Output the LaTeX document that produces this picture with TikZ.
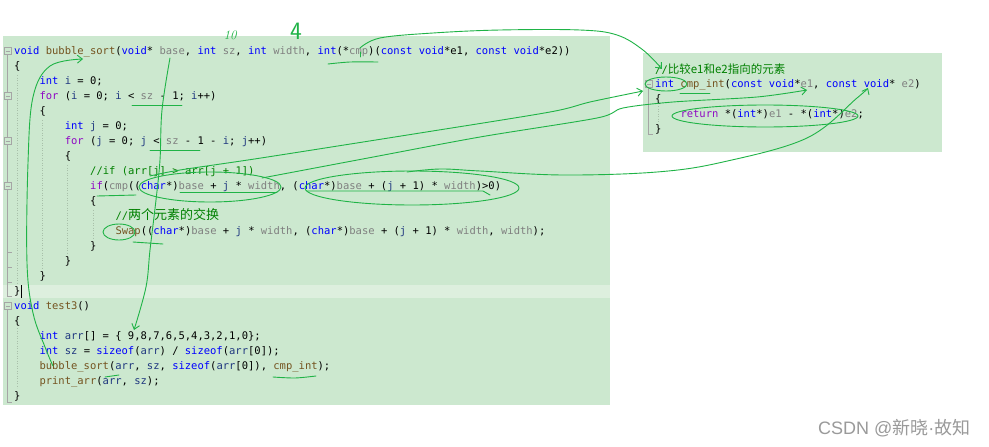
\documentclass[tikz,border=0pt]{standalone}
\usepackage{fontspec}
\setmonofont{DejaVu Sans Mono}
\newfontfamily\cjk{Noto Sans CJK SC}
\newfontfamily\wmfont{Liberation Sans}
\usepackage{xcolor}
\usetikzlibrary{arrows.meta}
\definecolor{panelgreen}{HTML}{CCE8CF}
\definecolor{curline}{HTML}{DDEFDE}
\definecolor{kwblue}{HTML}{0000FF}
\definecolor{ctlpurple}{HTML}{8F08C4}
\definecolor{fnbrown}{HTML}{74531F}
\definecolor{parmgray}{HTML}{808080}
\definecolor{localblue}{HTML}{1F377F}
\definecolor{cmtgreen}{HTML}{008000}
\definecolor{inkgreen}{HTML}{1FB346}
\definecolor{guttergray}{HTML}{A5A5A5}
\definecolor{guidegray}{HTML}{A8BFA9}
\definecolor{wmgray}{HTML}{9A9A9A}
\newcommand{\kw}[1]{\textcolor{kwblue}{#1}}
\newcommand{\ctl}[1]{\textcolor{ctlpurple}{#1}}
\newcommand{\fname}[1]{\textcolor{fnbrown}{#1}}
\newcommand{\pv}[1]{\textcolor{parmgray}{#1}}
\newcommand{\lv}[1]{\textcolor{localblue}{#1}}
\newcommand{\cmt}[1]{\textcolor{cmtgreen}{#1}}

\begin{document}
\begin{tikzpicture}[x=1pt,y=-1pt,
	codeline/.style={anchor=base west,inner sep=0pt,font=\ttfamily\fontsize{10.5}{15}\selectfont},
	scrawl/.style={draw=inkgreen,line width=0.9pt,line cap=round,line join=round,>={Straight Barb[length=5pt,width=8pt]}},
	gutter/.style={draw=guttergray,line width=0.5pt},
	guide/.style={draw=guidegray,line width=0.5pt,dotted}]
	\useasboundingbox[fill=white] (0,0) rectangle (989,447);
	% editor panels
	\fill[panelgreen] (3,36) rectangle (610,405);
	\fill[curline] (3,285) rectangle (610,298);
	\fill[panelgreen] (643,53) rectangle (942,152);

	% outlining gutter
	\draw[gutter] (7.5,54) -- (7.5,296) -- (12,296);
	\draw[gutter] (7.5,252) -- (12,252) (7.5,267) -- (12,267) (7.5,282) -- (12,282);
	\draw[gutter] (7.5,309) -- (7.5,402) -- (12,402);
	\draw[gutter] (648.5,87) -- (648.5,134) -- (653,134);
	\draw[gutter,fill=panelgreen] (4,47.5) rectangle (11,54.5);
	\draw[gutter] (5.5,51) -- (9.5,51);
	\draw[gutter,fill=panelgreen] (4,92.5) rectangle (11,99.5);
	\draw[gutter] (5.5,96) -- (9.5,96);
	\draw[gutter,fill=panelgreen] (4,137.5) rectangle (11,144.5);
	\draw[gutter] (5.5,141) -- (9.5,141);
	\draw[gutter,fill=panelgreen] (4,182.5) rectangle (11,189.5);
	\draw[gutter] (5.5,186) -- (9.5,186);
	\draw[gutter,fill=panelgreen] (4,302.5) rectangle (11,309.5);
	\draw[gutter] (5.5,306) -- (9.5,306);
	\draw[gutter,fill=panelgreen] (645,80.5) rectangle (652,87.5);
	\draw[gutter] (646.5,84) -- (650.5,84);

	% indent guides
	\draw[guide] (17,75) -- (17,283);
	\draw[guide] (42,120) -- (42,268);
	\draw[guide] (67.5,165) -- (67.5,253);
	\draw[guide] (93,210) -- (93,238);
	\draw[guide] (17,328) -- (17,388);
	\draw[guide] (658,106) -- (658,122);

	% bubble_sort
	\node[codeline] at (14,54.5) (l1) {\kw{void} \fname{bubble\_sort}(\kw{void}* \pv{base}, \kw{int} \pv{sz}, \kw{int} \pv{width}, \kw{int}(*\pv{cmp})(\kw{const} \kw{void}*e1, \kw{const} \kw{void}*e2))};
	\node[codeline] at (14,69.5) (l2) {\{};
	\node[codeline] at (39.3,84.5) (l3) {\kw{int} \lv{i} = 0;};
	\node[codeline] at (39.3,99.5) (l4) {\ctl{for} (\lv{i} = 0; \lv{i} < \pv{sz} - 1; \lv{i}++)};
	\node[codeline] at (39.3,114.5) (l5) {\{};
	\node[codeline] at (64.6,129.5) (l6) {\kw{int} \lv{j} = 0;};
	\node[codeline] at (64.6,144.5) (l7) {\ctl{for} (\lv{j} = 0; \lv{j} < \pv{sz} - 1 - \lv{i}; \lv{j}++)};
	\node[codeline] at (64.6,159.5) (l8) {\{};
	\node[codeline] at (90,174.5) (l9) {\cmt{//if (arr[j] > arr[j + 1])}};
	\node[codeline] at (90,189.5) (l10) {\ctl{if}(\pv{cmp}((\kw{char}*)\pv{base} + \lv{j} * \pv{width}, (\kw{char}*)\pv{base} + (\lv{j} + 1) * \pv{width})>0)};
	\node[codeline] at (90,204.5) (l11) {\{};
	\node[codeline] at (115.3,219.5) (l12) {\cmt{//{\cjk\fontsize{13}{15}\selectfont 两个元素的交换}}};
	\node[codeline] at (115.3,234.5) (l13) {\fname{Swap}((\kw{char}*)\pv{base} + \lv{j} * \pv{width}, (\kw{char}*)\pv{base} + (\lv{j} + 1) * \pv{width}, \pv{width});};
	\node[codeline] at (90,249.5) (l14) {\}};
	\node[codeline] at (64.6,264.5) (l15) {\}};
	\node[codeline] at (39.3,279.5) (l16) {\}};
	\node[codeline] at (14,294.5) (l17) {\}};
	\draw[black,line width=0.6pt] (21.5,285) -- (21.5,298);
	% test3
	\node[codeline] at (14,309.5) (l18) {\kw{void} \fname{test3}()};
	\node[codeline] at (14,324.5) (l19) {\{};
	\node[codeline] at (39.3,339.5) (l20) {\kw{int} \lv{arr}[] = \{ 9,8,7,6,5,4,3,2,1,0\};};
	\node[codeline] at (39.3,354.5) (l21) {\kw{int} \lv{sz} = \kw{sizeof}(\lv{arr}) / \kw{sizeof}(\lv{arr}[0]);};
	\node[codeline] at (39.3,369.5) (l22) {\fname{bubble\_sort}(\lv{arr}, \lv{sz}, \kw{sizeof}(\lv{arr}[0]), \fname{cmp\_int});};
	\node[codeline] at (39.3,384.5) (l23) {\fname{print\_arr}(\lv{arr}, \lv{sz});};
	\node[codeline] at (14,399.5) (l24) {\}};

	% cmp_int
	\node[codeline] at (655,73) (r1) {\cmt{//{\cjk\fontsize{11.5}{15}\selectfont 比较e1和e2指向的元素}}};
	\node[codeline] at (655,87.5) (r2) {\kw{int} \fname{cmp\_int}(\kw{const} \kw{void}*\pv{e1}, \kw{const} \kw{void}* \pv{e2})};
	\node[codeline] at (655,102.5) (r3) {\{};
	\node[codeline] at (680.3,117.5) (r4) {\ctl{return} *(\kw{int}*)\pv{e1} - *(\kw{int}*)\pv{e2};};
	\node[codeline] at (655,132.5) (r5) {\}};

	% handwritten notes
	\node[text=inkgreen,font=\fontsize{13}{13}\selectfont\itshape] at (230,35) (ten) {10};
	\node[text=inkgreen,font=\sffamily\fontsize{25}{25}\selectfont] at (296,31) (four) {4};

	\coordinate (cmpmark) at (360,48);
	\coordinate (cmttip) at (662,69);
	\coordinate (callbs) at (53,366);
	\coordinate (defbs) at (83,59);
	\coordinate (basemark) at (170,58);
	\coordinate (arrtip) at (134,330);
	\coordinate (argone) at (150,176);
	\coordinate (inttip) at (643,91);
	\coordinate (argtwo) at (262,178);
	\coordinate (eonetip) at (807,90);
	\coordinate (argthree) at (407,172);
	\coordinate (voidtip) at (868,88);

	\draw[scrawl,->] plot[smooth,tension=0.6] coordinates {(cmpmark) (380,38) (433,33) (500,30) (580,30) (617,35) (643,50) (cmttip)};
	\draw[scrawl,->] plot[smooth,tension=0.6] coordinates {(callbs) (45,347) (33,313) (27,263) (28,163) (33,97) (50,66) (defbs)};
	\draw[scrawl,->] plot[smooth,tension=0.6] coordinates {(basemark) (162,110) (160,160) (156,200) (150,250) (146,287) (arrtip)};
	\draw[scrawl,->] plot[smooth,tension=0.5] coordinates {(argone) (180,170) (261,158) (420,133) (550,112) (590,102) (inttip)};
	\draw[scrawl,->] plot[smooth,tension=0.5] coordinates {(argtwo) (368,158) (480,137) (597,118) (623,108) (673,102) (757,97) (eonetip)};
	\draw[scrawl,->] plot[smooth,tension=0.6] coordinates {(argthree) (440,169) (480,171) (563,175) (657,172) (723,162) (807,138) (857,98) (voidtip)};

	% underlines and rings
	\draw[scrawl] (360,52) -- (360,57);
	\draw[scrawl] plot[smooth] coordinates {(328,64) (350,62) (378,62)};
	\draw[scrawl] (132,105) -- (182,105);
	\draw[scrawl] (150,150) -- (200,150);
	\draw[scrawl] (97,196) -- (136,195);
	\draw[scrawl] (133,242) -- (163,244);
	\draw[scrawl] (105,377) -- (119,375);
	\draw[scrawl] plot[smooth] coordinates {(273,377) (295,378) (316,376)};
	\draw[scrawl] (180,192) -- (277,192);
	\draw[scrawl] (307,191) -- (483,191) -- (490,195);
	\draw[scrawl] (210,187) ellipse [x radius=71pt,y radius=15pt];
	\draw[scrawl] (412,188) ellipse [x radius=107pt,y radius=17pt];
	\draw[scrawl] (119,232) ellipse [x radius=16pt,y radius=8pt];
	\draw[scrawl] (666,84) ellipse [x radius=21pt,y radius=7pt];
	\draw[scrawl] (680,93) -- (710,93);
	\draw[scrawl] (765,116) ellipse [x radius=93pt,y radius=11pt];

	% watermark
	\node[anchor=base west,inner sep=0pt,text=wmgray,font=\fontsize{18}{20}\selectfont] at (818,434) (mark) {\wmfont CSDN @{\cjk 新晓}·{\cjk 故知}};
\end{tikzpicture}
\end{document}
